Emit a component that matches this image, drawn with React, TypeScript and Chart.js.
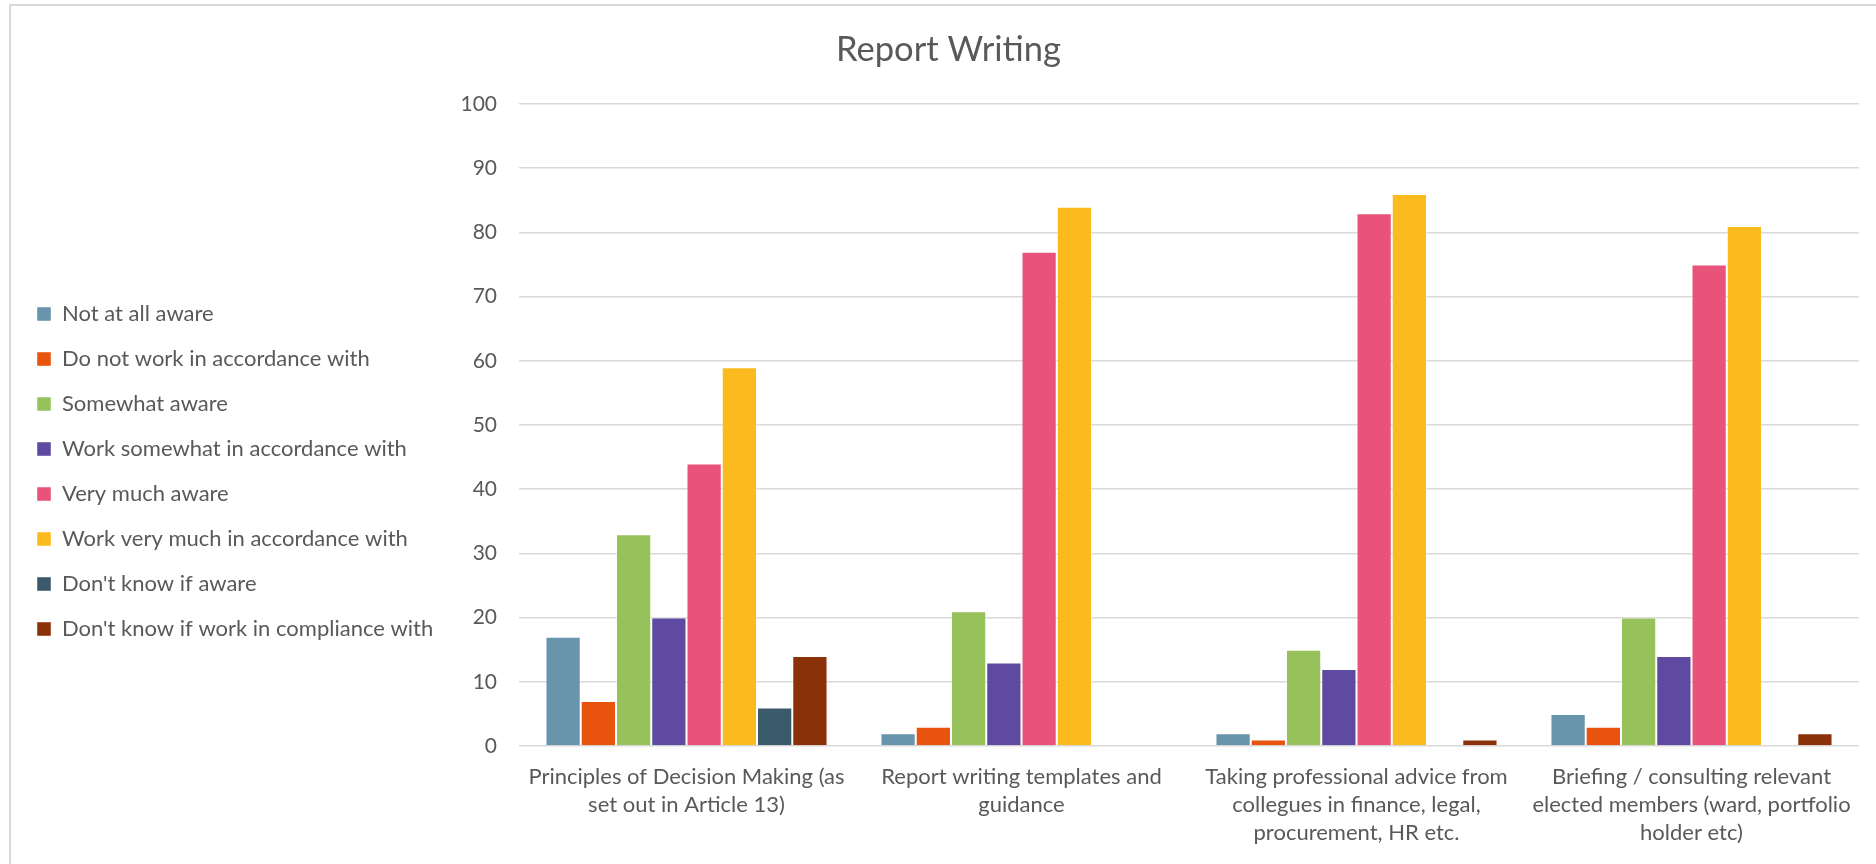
import { useEffect, useRef } from "react";
import { Chart, registerables } from "chart.js";

Chart.register(...registerables);

// Question groups shown along the x axis (pre-wrapped into lines)
const categories: string[][] = [
  ["Principles of Decision Making (as", "set out in Article 13)"],
  ["Report writing templates and", "guidance"],
  ["Taking professional advice from", "collegues in finance, legal,", "procurement, HR etc."],
  ["Briefing / consulting relevant", "elected members (ward, portfolio", "holder etc)"],
];

// Response counts per answer option, one value per question group
const notAtAllAware = [17, 2, 2, 5];
const doNotWorkInAccordance = [7, 3, 1, 3];
const somewhatAware = [33, 21, 15, 20];
const workSomewhatInAccordance = [20, 13, 12, 14];
const veryMuchAware = [44, 77, 83, 75];
const workVeryMuchInAccordance = [59, 84, 86, 81];
const dontKnowIfAware = [6, 0, 0, 0];
const dontKnowIfWorkInCompliance = [14, 0, 1, 2];

const seriesNames = [
  "Not at all aware",
  "Do not work in accordance with",
  "Somewhat aware",
  "Work somewhat in accordance with",
  "Very much aware",
  "Work very much in accordance with",
  "Don't know if aware",
  "Don't know if work in compliance with",
];

const seriesValues = [
  notAtAllAware,
  doNotWorkInAccordance,
  somewhatAware,
  workSomewhatInAccordance,
  veryMuchAware,
  workVeryMuchInAccordance,
  dontKnowIfAware,
  dontKnowIfWorkInCompliance,
];

const seriesColors = [
  "#6895AB",
  "#E8540E",
  "#97C15A",
  "#5E4AA0",
  "#E9537A",
  "#FBBB1F",
  "#3A5A6C",
  "#8B3109",
];

// Value axis range
const yMin = 0;
const yMax = 100;
const yStep = 10;

const chartTitle = "Report Writing";

const FONT = "Lato, 'Open Sans', sans-serif";
const TEXT = "#595959";
const GRID = "#D9D9D9";

// Nudges the title block sideways so it sits centred over the whole frame
const titleShift = {
  id: "titleShift",
  afterLayout(chart: any) {
    const t = chart.titleBlock;
    if (t) {
      t.left += 12;
      t.right += 12;
    }
  },
};

export default function App() {
  const canvasRef = useRef<HTMLCanvasElement | null>(null);

  useEffect(() => {
    const canvas = canvasRef.current;
    if (!canvas) return;

    const chart = new Chart(canvas, {
      type: "bar",
      data: {
        labels: categories,
        datasets: seriesNames.map((name, i) => ({
          label: name,
          data: seriesValues[i],
          backgroundColor: seriesColors[i],
          borderColor: "rgba(255,255,255,0.45)",
          borderWidth: 1,
          categoryPercentage: 0.842,
          barPercentage: 1,
        })),
      },
      plugins: [titleShift],
      options: {
        responsive: false,
        animation: false,
        layout: { padding: { left: 14, right: 17, top: 0, bottom: 0 } },
        plugins: {
          title: {
            display: true,
            text: chartTitle,
            color: TEXT,
            font: { family: FONT, size: 34.5, weight: "normal", lineHeight: 1.2 },
            padding: { top: 29, bottom: 33.6 },
          },
          legend: {
            position: "left",
            align: "start",
            title: {
              display: true,
              text: "",
              font: { size: 1, lineHeight: 1 },
              padding: { top: 279, bottom: 0 },
            },
            labels: {
              color: TEXT,
              font: { family: FONT, size: 22 },
              boxWidth: 14,
              boxHeight: 14,
              padding: 23,
            },
          },
          tooltip: { enabled: false },
        },
        scales: {
          x: {
            grid: { display: false, drawTicks: false },
            border: { display: false },
            ticks: {
              color: TEXT,
              font: { family: FONT, size: 22, lineHeight: 1.28 },
              padding: 17,
              maxRotation: 0,
              autoSkip: false,
            },
            afterFit: (s: any) => {
              s.height = 118;
            },
          },
          y: {
            min: yMin,
            max: yMax,
            grid: { color: GRID, lineWidth: 1.5, drawTicks: false },
            border: { display: false },
            ticks: {
              stepSize: yStep,
              color: TEXT,
              font: { family: FONT, size: 21 },
              padding: 22,
            },
            afterFit: (s: any) => {
              const lg = s.chart.legend;
              const lw = lg && lg.width ? lg.width : 0;
              s.width = 519 - 14 - lw;
            },
          },
        },
      },
    });

    return () => chart.destroy();
  }, []);

  return (
    <div
      style={{
        position: "absolute",
        left: 0,
        top: 0,
        width: 1876,
        height: 864,
        overflow: "hidden",
        background: "#ffffff",
      }}
    >
      <div
        style={{
          position: "absolute",
          left: 9,
          top: 4,
          width: 1950,
          height: 950,
          borderLeft: "2px solid #D9D9D9",
          borderTop: "2px solid #D9D9D9",
        }}
      />
      <canvas
        ref={canvasRef}
        width={1876}
        height={864}
        style={{ position: "absolute", left: 0, top: 0, width: 1876, height: 864 }}
      />
    </div>
  );
}
